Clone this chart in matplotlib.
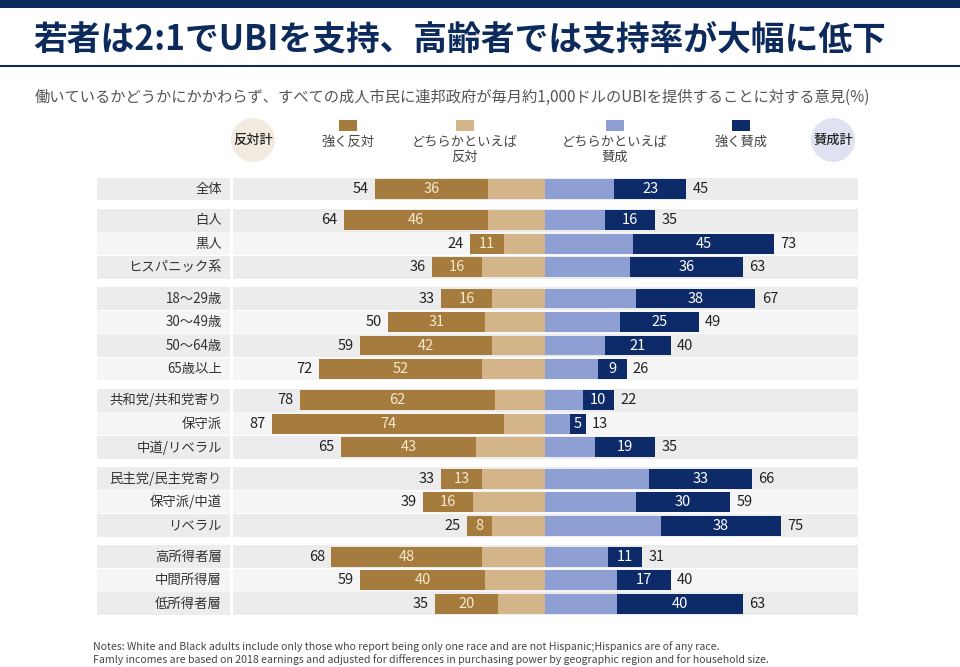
import matplotlib.pyplot as plt
from matplotlib.patches import Ellipse, Rectangle

plt.rcParams['font.family'] = ['Noto Sans CJK JP', 'DejaVu Sans']

# data (%)
categories = ['全体',
              '白人', '黒人', 'ヒスパニック系',
              '18～29歳', '30～49歳', '50～64歳', '65歳以上',
              '共和党/共和党寄り', '保守派', '中道/リベラル',
              '民主党/民主党寄り', '保守派/中道', 'リベラル',
              '高所得者層', '中間所得層', '低所得者層']
group_sizes = [1, 3, 4, 3, 3, 3]
oppose_total = [54, 64, 24, 36, 33, 50, 59, 72, 78, 87, 65, 33, 39, 25, 68, 59, 35]
oppose_strong = [36, 46, 11, 16, 16, 31, 42, 52, 62, 74, 43, 13, 16, 8, 48, 40, 20]
support_strong = [23, 16, 45, 36, 38, 25, 21, 9, 10, 5, 19, 33, 30, 38, 11, 17, 40]
support_total = [45, 35, 73, 63, 67, 49, 40, 26, 22, 13, 35, 66, 59, 75, 31, 40, 63]

legend_labels = ['強く反対', 'どちらかといえば\n反対', 'どちらかといえば\n賛成', '強く賛成']

C_STRONG_OPP = '#a67c3e'
C_LEAN_OPP = '#d4b589'
C_LEAN_SUP = '#8d9fd3'
C_STRONG_SUP = '#0c2b68'
NAVY = '#0d2a5c'

W, H = 960, 667
fig = plt.figure(figsize=(W / 100, H / 100), dpi=100)


def fx(px):
    return px / W


def fy(py):
    return 1 - py / H


# top band and title
fig.add_artist(Rectangle((0, fy(8)), 1, 8 / H, transform=fig.transFigure,
                         color=NAVY, lw=0))
fig.add_artist(Rectangle((0, fy(67)), 1, 2 / H, transform=fig.transFigure,
                         color=NAVY, lw=0))
fig.text(fx(33), fy(39), '若者は2:1でUBIを支持、高齢者では支持率が大幅に低下',
         fontsize=24.3, fontweight='bold', color=NAVY, va='center', ha='left')
fig.text(fx(35), fy(97),
         '働いているかどうかにかかわらず、すべての成人市民に連邦政府が毎月約1,000ドルのUBIを提供することに対する意見(%)',
         fontsize=11, color='#555555', va='center', ha='left')

# header legend
fig.add_artist(Ellipse((fx(253), fy(140)), 44 / W, 44 / H, transform=fig.transFigure,
                       color='#f3ebe0', lw=0))
fig.text(fx(253), fy(140), '反対計', fontsize=9.5, ha='center', va='center',
         color='#222222', fontweight='medium')
fig.add_artist(Ellipse((fx(833), fy(140)), 44 / W, 44 / H, transform=fig.transFigure,
                       color='#e0e2f1', lw=0))
fig.text(fx(833), fy(140), '賛成計', fontsize=9.5, ha='center', va='center',
         color='#222222', fontweight='medium')

leg_x = [348, 465, 615, 741]
leg_c = [C_STRONG_OPP, C_LEAN_OPP, C_LEAN_SUP, C_STRONG_SUP]
for x, c, lab in zip(leg_x, leg_c, legend_labels):
    fig.add_artist(Rectangle((fx(x - 9), fy(131)), 18 / W, 11 / H,
                             transform=fig.transFigure, color=c, lw=0))
    fig.text(fx(x), fy(136), lab, fontsize=9.5, ha='center', va='top',
             color='#444444', linespacing=1.2)

# main axes
center, scale = 545, 3.14
row_px, row0 = 23.5, 189
top_px, bot_px, left_px, right_px = 176, 617, 97, 858
ax = fig.add_axes([fx(left_px), fy(bot_px), (right_px - left_px) / W, (bot_px - top_px) / H])
x0 = (left_px - center) / scale
x1 = (right_px - center) / scale
ax.set_xlim(x0, x1)
ax.set_ylim((bot_px - row0) / row_px, (top_px - row0) / row_px)
ax.axis('off')

ypos, shade = [], []
y = 0.0
for n in group_sizes:
    for k in range(n):
        ypos.append(y)
        shade.append('#ececec' if k % 2 == 0 else '#f5f5f5')
        y += 1
    y += 0.33

lab_edge = (230 - center) / scale
bar_edge = (233 - center) / scale
for i, yy in enumerate(ypos):
    ax.barh(yy, lab_edge - x0, left=x0, height=0.97, color=shade[i], lw=0)
    ax.barh(yy, x1 - bar_edge, left=bar_edge, height=0.97, color=shade[i], lw=0)

    lean_o = oppose_total[i] - oppose_strong[i]
    lean_s = support_total[i] - support_strong[i]
    ax.barh(yy, -lean_o, left=0, height=0.85, color=C_LEAN_OPP, lw=0)
    ax.barh(yy, -oppose_strong[i], left=-lean_o, height=0.85, color=C_STRONG_OPP, lw=0)
    ax.barh(yy, lean_s, left=0, height=0.85, color=C_LEAN_SUP, lw=0)
    ax.barh(yy, support_strong[i], left=lean_s, height=0.85, color=C_STRONG_SUP, lw=0)

    ax.text(-oppose_total[i] - 2, yy, str(oppose_total[i]), ha='right', va='center',
            fontsize=10.5, color='#222222')
    ax.text(-lean_o - oppose_strong[i] / 2, yy, str(oppose_strong[i]), ha='center',
            va='center', fontsize=10.5, color='#f6e8cc')
    ax.text(lean_s + support_strong[i] / 2, yy, str(support_strong[i]), ha='center',
            va='center', fontsize=10.5, color='white')
    ax.text(support_total[i] + 2, yy, str(support_total[i]), ha='left', va='center',
            fontsize=10.5, color='#222222')
    ax.text((222 - center) / scale, yy, categories[i], ha='right', va='center',
            fontsize=9.6, color='#333333')

# notes
fig.text(fx(93), fy(647),
         'Notes: White and Black adults include only those who report being only one race and are not Hispanic;Hispanics are of any race.',
         fontsize=7.6, color='#444444', va='center', ha='left')
fig.text(fx(93), fy(660),
         'Famly incomes are based on 2018 earnings and adjusted for differences in purchasing power by geographic region and for household size.',
         fontsize=7.6, color='#444444', va='center', ha='left')

fig.savefig('out.png', dpi=100)
